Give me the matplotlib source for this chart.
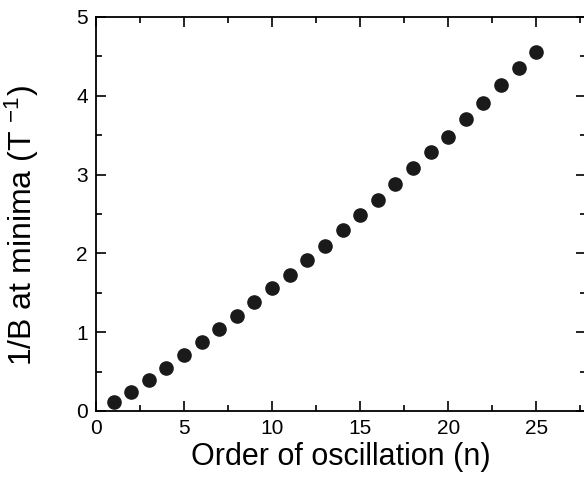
import numpy as np
import matplotlib
matplotlib.use("Agg")
import matplotlib.pyplot as plt
from matplotlib.ticker import MultipleLocator

plt.rcParams['font.family'] = ['Liberation Sans', 'DejaVu Sans']
plt.rcParams['mathtext.fontset'] = 'custom'
plt.rcParams['mathtext.rm'] = 'Liberation Sans'
plt.rcParams['mathtext.it'] = 'Liberation Sans'

## order of oscillation and 1/B at the minima
order_n = [1, 2, 3, 4, 5, 6, 7, 8, 9, 10, 11, 12, 13,
           14, 15, 16, 17, 18, 19, 20, 21, 22, 23, 24, 25]
inv_b = [0.11, 0.24, 0.39, 0.55, 0.71, 0.87, 1.04, 1.21, 1.38, 1.56, 1.73, 1.91, 2.10,
         2.30, 2.49, 2.68, 2.88, 3.08, 3.29, 3.48, 3.70, 3.91, 4.14, 4.35, 4.56]

fig = plt.figure(figsize=(5.84, 4.78), dpi=100)
# right spine sits just past the image edge, as in the original
ax = fig.add_axes([96/584, 67/478, 489.5/584, 394/478])

ax.plot(order_n, inv_b, 'o', color='#1a1a1a', markersize=9.5, linestyle='none')

ax.set_xlim(0, 27.8)
ax.set_ylim(0, 5)
ax.xaxis.set_major_locator(MultipleLocator(5))
ax.xaxis.set_minor_locator(MultipleLocator(2.5))
ax.yaxis.set_major_locator(MultipleLocator(1))
ax.yaxis.set_minor_locator(MultipleLocator(0.5))

ax.tick_params(which='both', direction='in', top=True, right=True, width=1.2,
               labelsize=15, pad=6)
ax.tick_params(which='major', length=7)
ax.tick_params(which='minor', length=4)
for sp in ax.spines.values():
    sp.set_linewidth(1.3)

ax.set_xlabel("Order of oscillation (n)", fontsize=22, labelpad=3)
ax.set_ylabel(r"1/B at minima (T $^{-1}$)", fontsize=23)
ax.yaxis.set_label_coords(-0.112, 0.47)

fig.savefig("out.png", dpi=100)
